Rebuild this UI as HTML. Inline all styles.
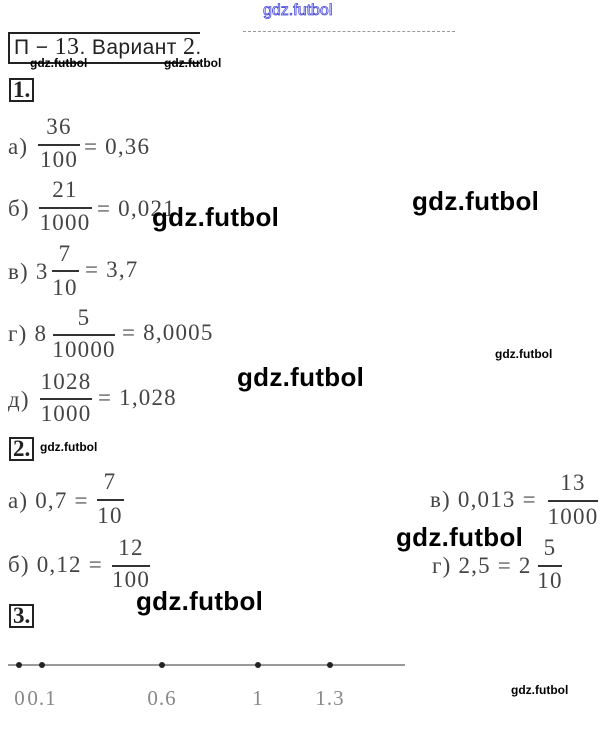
<!DOCTYPE html>
<html><head><meta charset="utf-8"><style>
body{margin:0;width:606px;height:732px;background:#fff;position:relative;overflow:hidden}
.t{position:absolute;font-family:"Liberation Serif",serif;font-size:23px;line-height:22px;color:#444;white-space:nowrap;letter-spacing:1.2px}
.c{transform:translateX(-50%)}
.l{position:absolute;height:2px;background:#333}
.w{position:absolute;font-family:"Liberation Sans",sans-serif;color:#000;white-space:nowrap;line-height:1}
.W{font-size:26px;font-weight:bold;letter-spacing:0.3px}
.s{font-size:12px;font-weight:bold}
.box{position:absolute;border:2px solid #222;font-family:"Liberation Serif",serif;font-size:23px;line-height:20px;color:#222;padding:0 2px;font-weight:bold}
.d{position:absolute;width:6px;height:6px;border-radius:50%;background:#222;top:662px}
.n{position:absolute;top:686px;font-family:"Liberation Serif",serif;font-size:21px;color:#888;transform:translateX(-50%);letter-spacing:1px}
</style></head><body>
<div class="w" style="left:263px;top:3px;font-size:16px;color:#fff;-webkit-text-stroke:0.8px #4444dd">gdz.futbol</div>
<div style="position:absolute;left:243px;top:31px;width:212px;border-top:1px dashed #999"></div>
<div style="position:absolute;left:8px;top:32px;width:190px;height:28px;border:2px solid #222;border-right:none"></div>
<div class="w" style="left:14px;top:35px;font-size:21px;color:#222;letter-spacing:0.4px">П − <span style="font-family:'Liberation Serif',serif;font-size:24px">13</span>. Вариант <span style="font-family:'Liberation Serif',serif;font-size:24px">2</span>.</div>
<div class="w s" style="left:30px;top:57px">gdz.futbol</div>
<div class="w s" style="left:164px;top:57px">gdz.futbol</div>
<div class="box" style="left:9px;top:78px">1.</div>

<div class="t" style="left:8px;top:136px">а)</div>
<div class="t c" style="left:59px;top:116px">36</div><div class="l" style="left:38px;top:144px;width:42px"></div><div class="t c" style="left:59px;top:149px">100</div>
<div class="t" style="left:84px;top:136px">= 0,36</div>

<div class="t" style="left:8px;top:198px">б)</div>
<div class="t c" style="left:65px;top:179px">21</div><div class="l" style="left:39px;top:207px;width:53px"></div><div class="t c" style="left:65px;top:212px">1000</div>
<div class="t" style="left:97px;top:198px">= 0,021</div>

<div class="t" style="left:8px;top:261px">в) 3</div>
<div class="t c" style="left:65px;top:243px">7</div><div class="l" style="left:52px;top:270px;width:27px"></div><div class="t c" style="left:65px;top:277px">10</div>
<div class="t" style="left:85px;top:259px">= 3,7</div>

<div class="t" style="left:8px;top:323px">г) 8</div>
<div class="t c" style="left:84px;top:307px">5</div><div class="l" style="left:53px;top:334px;width:62px"></div><div class="t c" style="left:84px;top:339px">10000</div>
<div class="t" style="left:122px;top:322px">= 8,0005</div>

<div class="t" style="left:8px;top:389px">д)</div>
<div class="t c" style="left:66px;top:371px">1028</div><div class="l" style="left:40px;top:398px;width:52px"></div><div class="t c" style="left:66px;top:403px">1000</div>
<div class="t" style="left:98px;top:387px">= 1,028</div>

<div class="box" style="left:9px;top:437px">2.</div>
<div class="w s" style="left:40px;top:441px">gdz.futbol</div>

<div class="t" style="left:8px;top:490px">а) 0,7 =</div>
<div class="t c" style="left:110px;top:471px">7</div><div class="l" style="left:97px;top:499px;width:27px"></div><div class="t c" style="left:110px;top:505px">10</div>

<div class="t" style="left:430px;top:489px">в) 0,013 =</div>
<div class="t c" style="left:573px;top:472px">13</div><div class="l" style="left:548px;top:500px;width:50px"></div><div class="t c" style="left:573px;top:506px">1000</div>

<div class="t" style="left:8px;top:554px">б) 0,12 =</div>
<div class="t c" style="left:131px;top:537px">12</div><div class="l" style="left:112px;top:565px;width:38px"></div><div class="t c" style="left:131px;top:569px">100</div>

<div class="t" style="left:432px;top:555px">г) 2,5 = 2</div>
<div class="t c" style="left:550px;top:537px">5</div><div class="l" style="left:538px;top:565px;width:24px"></div><div class="t c" style="left:550px;top:570px">10</div>

<div class="box" style="left:9px;top:604px">3.</div>

<div style="position:absolute;left:8px;top:664px;width:397px;height:2px;background:#999"></div>
<div class="d" style="left:16px"></div><div class="d" style="left:39px"></div><div class="d" style="left:159px"></div><div class="d" style="left:255px"></div><div class="d" style="left:327px"></div>
<div class="n" style="left:20px">0</div><div class="n" style="left:42px">0.1</div><div class="n" style="left:162px">0.6</div><div class="n" style="left:258px">1</div><div class="n" style="left:330px">1.3</div>

<div class="w W" style="left:152px;top:204px">gdz.futbol</div>
<div class="w W" style="left:412px;top:188px">gdz.futbol</div>
<div class="w W" style="left:237px;top:364px">gdz.futbol</div>
<div class="w W" style="left:396px;top:524px">gdz.futbol</div>
<div class="w W" style="left:136px;top:588px">gdz.futbol</div>
<div class="w s" style="left:495px;top:348px">gdz.futbol</div>
<div class="w s" style="left:511px;top:684px">gdz.futbol</div>
</body></html>
